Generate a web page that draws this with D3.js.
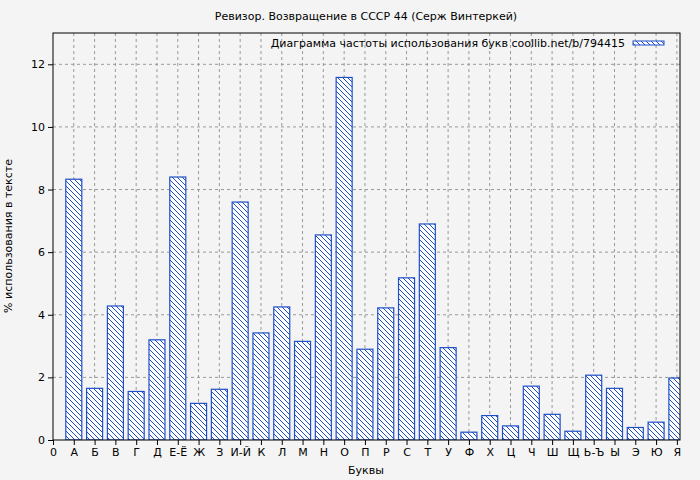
<!DOCTYPE html>
<html><head><meta charset="utf-8">
<script src="https://cdn.jsdelivr.net/npm/d3@7"></script>
<style>body{margin:0;background:#f4f4f4}</style></head>
<body><svg id="c" width="700" height="480"></svg>
<script>
const letters=["А","Б","В","Г","Д","Е-Ё","Ж","З","И-Й","К","Л","М","Н","О","П","Р","С","Т","У","Ф","Х","Ц","Ч","Ш","Щ","Ь-Ъ","Ы","Э","Ю","Я"];
const values=[8.33,1.65,4.28,1.55,3.2,8.4,1.17,1.62,7.6,3.42,4.25,3.15,6.55,11.58,2.9,4.22,5.18,6.9,2.95,0.25,0.78,0.45,1.72,0.82,0.28,2.07,1.65,0.4,0.57,1.98];
const yTicks=[0,2,4,6,8,10,12];
const tickLabels=["0"].concat(letters);
const svg=d3.select("#c");
const L=53,R=680,T=33,B=440;
svg.append("rect").attr("width",700).attr("height",480).attr("fill","#f4f4f4");
const defs=svg.append("defs");
const p=defs.append("pattern").attr("id","h").attr("patternUnits","userSpaceOnUse").attr("width",5).attr("height",5);
p.append("rect").attr("width",5).attr("height",5).attr("fill","#fff");
p.append("path").attr("d","M0,0L5,5M-1,4L1,6M4,-1L6,1").attr("stroke","#1f4fc8").attr("stroke-width",1);
defs.append("clipPath").attr("id","cl").append("rect").attr("x",L).attr("y",T).attr("width",R-L).attr("height",B-T);
const x=d3.scaleLinear().domain([0,30.15]).range([L,R]);
const y=d3.scaleLinear().domain([0,13]).range([B,T]);
const g=svg.append("g");
const xt=d3.range(0,31);
g.selectAll(".vg").data(xt.slice(1)).join("line").attr("x1",d=>x(d)).attr("x2",d=>x(d)).attr("y1",T).attr("y2",B).attr("stroke","#999").attr("stroke-dasharray","3,3");
g.selectAll(".hg").data(yTicks.slice(1)).join("line").attr("x1",L).attr("x2",R).attr("y1",d=>y(d)).attr("y2",d=>y(d)).attr("stroke","#999").attr("stroke-dasharray","3,3");
const bw=16;
svg.append("g").attr("clip-path","url(#cl)").selectAll("rect").data(values).join("rect")
 .attr("x",(d,i)=>x(i+1)-bw/2).attr("width",bw).attr("y",d=>y(d)).attr("height",d=>B-y(d))
 .attr("fill","url(#h)").attr("stroke","#1f4fc8").attr("stroke-width",1.2);
svg.append("rect").attr("x",L).attr("y",T).attr("width",R-L).attr("height",B-T).attr("fill","none").attr("stroke","#000");
const f="DejaVu Sans";
svg.append("g").attr("transform",`translate(0,${B})`).call(d3.axisBottom(x).tickValues(xt).tickFormat(d=>tickLabels[d]).tickSize(5).tickSizeOuter(0))
 .call(a=>{a.select(".domain").remove();a.selectAll("text").attr("font-family",f).attr("font-size",11).attr("fill","#000");});
svg.append("g").attr("transform",`translate(${L},0)`).call(d3.axisLeft(y).tickValues(yTicks).tickSize(5).tickSizeOuter(0))
 .call(a=>{a.select(".domain").remove();a.selectAll("text").attr("font-family",f).attr("font-size",11).attr("fill","#000");});
svg.append("text").attr("x",366).attr("y",20).attr("text-anchor","middle").attr("font-family",f).attr("font-size",11).text("Ревизор. Возвращение в СССР 44 (Серж Винтеркей)");
svg.append("text").attr("x",366).attr("y",474).attr("text-anchor","middle").attr("font-family",f).attr("font-size",11).text("Буквы");
svg.append("text").attr("transform","translate(12,236) rotate(-90)").attr("text-anchor","middle").attr("font-family",f).attr("font-size",11).text("% использования в тексте");
svg.append("text").attr("x",625).attr("y",47).attr("text-anchor","end").attr("font-family",f).attr("font-size",11).text("Диаграмма частоты использования букв coollib.net/b/794415");
svg.append("rect").attr("x",633).attr("y",41).attr("width",31).attr("height",4).attr("fill","url(#h)").attr("stroke","#1f4fc8");
</script></body></html>
